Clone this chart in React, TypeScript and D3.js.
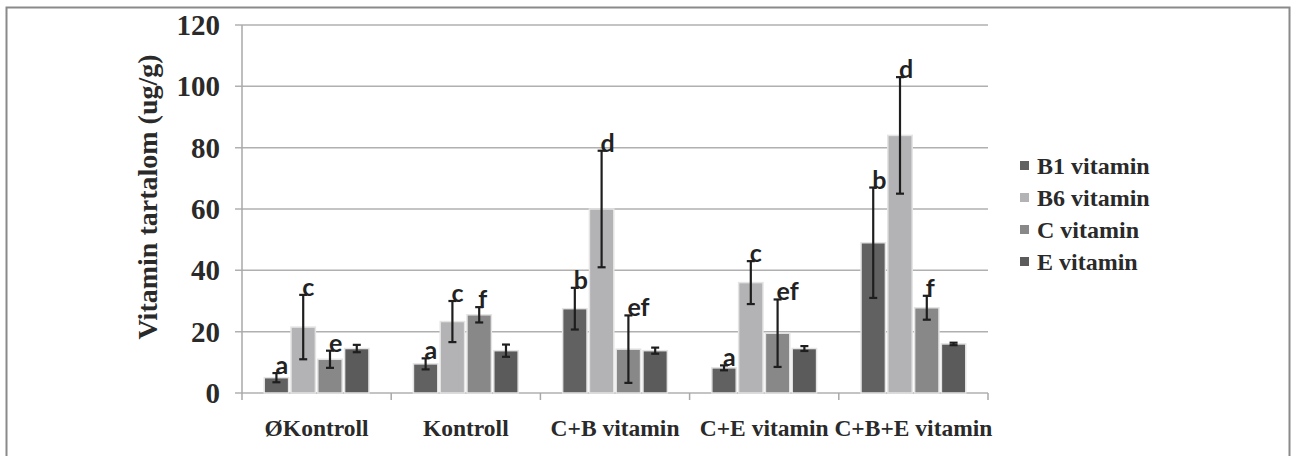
import React from 'react';
import * as d3 from 'd3';

const categories = ['ØKontroll', 'Kontroll', 'C+B vitamin', 'C+E vitamin', 'C+B+E vitamin'];
const seriesNames = ['B1 vitamin', 'B6 vitamin', 'C vitamin', 'E vitamin'];
const seriesColors = ['#616161', '#b3b3b5', '#888888', '#5b5b5b'];

// mean values per series, one entry per category
const b1Values = [5, 9.5, 27.5, 8.2, 49];
const b6Values = [21.5, 23.3, 60, 36, 84];
const cValues = [11, 25.5, 14.3, 19.5, 27.8];
const eValues = [14.5, 13.8, 13.8, 14.5, 16];

// error (± deviation)
const b1Err = [1.5, 1.8, 6.8, 0.8, 18];
const b6Err = [10.5, 6.7, 19, 7, 19];
const cErr = [2.8, 2.5, 11, 11, 3.9];
const eErr = [1.2, 2, 1, 0.8, 0.4];

// significance letters
const b1Letters = ['a', 'a', 'b', 'a', 'b'];
const b6Letters = ['c', 'c', 'd', 'c', 'd'];
const cLetters = ['e', 'f', 'ef', 'ef', 'f'];
const eLetters = ['', '', '', '', ''];

const yTicks = [0, 20, 40, 60, 80, 100, 120];

const values = [b1Values, b6Values, cValues, eValues];
const errors = [b1Err, b6Err, cErr, eErr];
const letters = [b1Letters, b6Letters, cLetters, eLetters];

const serif = '"Liberation Serif", "Times New Roman", serif';

const App: React.FC = () => {
  const width = 1291;
  const height = 456;

  const x0 = d3.scaleBand<string>().domain(categories).range([242, 988]).padding(0);
  const x1 = d3
    .scaleBand<string>()
    .domain(seriesNames)
    .range([0, x0.bandwidth()])
    .paddingInner(0.09)
    .paddingOuter(0.83);
  const y = d3.scaleLinear().domain([0, 120]).range([393, 25]);

  const bars: JSX.Element[] = [];
  const errBars: JSX.Element[] = [];
  const labels: JSX.Element[] = [];

  categories.forEach((cat, ci) => {
    seriesNames.forEach((s, si) => {
      const v = values[si][ci];
      const e = errors[si][ci];
      const bx = (x0(cat) ?? 0) + (x1(s) ?? 0);
      const bw = x1.bandwidth();
      const cx = bx + bw / 2;
      bars.push(
        <rect
          key={`b-${ci}-${si}`}
          x={bx}
          y={y(v)}
          width={bw}
          height={y(0) - y(v)}
          fill={seriesColors[si]}
          stroke="#e4e4e4"
          strokeWidth={1.5}
        />
      );
      errBars.push(
        <g key={`e-${ci}-${si}`} stroke="#1e1e1e" strokeWidth={2.2}>
          <line x1={cx} x2={cx} y1={y(v + e)} y2={y(v - e)} />
          <line x1={cx - 4} x2={cx + 4} y1={y(v + e)} y2={y(v + e)} />
          <line x1={cx - 4} x2={cx + 4} y1={y(v - e)} y2={y(v - e)} />
        </g>
      );
      const l = letters[si][ci];
      if (l) {
        labels.push(
          <text
            key={`l-${ci}-${si}`}
            x={cx - 1}
            y={y(v + e) + 1}
            fontFamily='Lato, "Open Sans", sans-serif'
            fontWeight={700}
            fontSize={25}
            fill="#222"
          >
            {l}
          </text>
        );
      }
    });
  });

  return (
    <svg
      width={width}
      height={height}
      style={{ position: 'absolute', left: 0, top: 0, background: '#fff' }}
    >
      {/* outer frame */}
      <path d={`M6.5,${height} V7.5 H1289.5 V${height}`} fill="none" stroke="#8a8a8a" strokeWidth={2} />

      {/* gridlines and y ticks */}
      {yTicks.map(t => (
        <g key={t}>
          <line x1={235} x2={988} y1={y(t)} y2={y(t)} stroke="#b0b0b0" strokeWidth={1.5} />
          <text
            x={220}
            y={y(t)}
            dy="0.35em"
            textAnchor="end"
            fontFamily={serif}
            fontWeight="bold"
            fontSize={29}
            fill="#2a2a2a"
          >
            {t}
          </text>
        </g>
      ))}

      {/* y axis line */}
      <line x1={242} x2={242} y1={y(120)} y2={y(0) + 7} stroke="#a8a8a8" strokeWidth={1.5} />

      {/* category boundary ticks */}
      {categories.map(c => (
        <line
          key={`t-${c}`}
          x1={(x0(c) ?? 0) + x0.bandwidth()}
          x2={(x0(c) ?? 0) + x0.bandwidth()}
          y1={y(0)}
          y2={y(0) + 7}
          stroke="#a8a8a8"
          strokeWidth={1.5}
        />
      ))}

      {bars}
      {errBars}
      {labels}

      {/* x labels */}
      {categories.map(c => (
        <text
          key={`x-${c}`}
          x={(x0(c) ?? 0) + x0.bandwidth() / 2}
          y={436}
          textAnchor="middle"
          fontFamily={serif}
          fontWeight="bold"
          fontSize={23.5}
          fill="#2a2a2a"
        >
          {c}
        </text>
      ))}

      {/* y axis title */}
      <text
        transform="translate(157,197) rotate(-90)"
        textAnchor="middle"
        fontFamily={serif}
        fontWeight="bold"
        fontSize={28}
        fill="#2a2a2a"
      >
        Vitamin tartalom (ug/g)
      </text>

      {/* legend */}
      {seriesNames.map((s, i) => (
        <g key={`lg-${s}`} transform={`translate(1020,${166 + i * 32})`}>
          <rect x={0} y={-5} width={9} height={9} fill={seriesColors[i]} />
          <text
            x={17}
            y={0}
            dy="0.35em"
            fontFamily={serif}
            fontWeight="bold"
            fontSize={24}
            fill="#2a2a2a"
          >
            {s}
          </text>
        </g>
      ))}
    </svg>
  );
};

export default App;
